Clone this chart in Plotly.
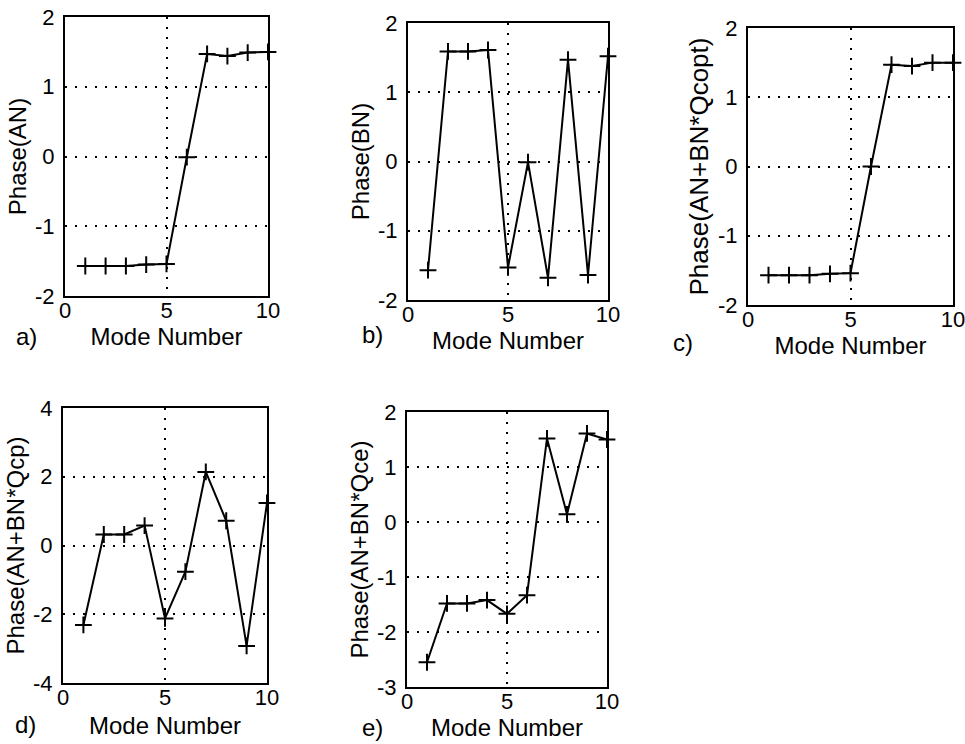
import plotly.graph_objects as go

# ---------------- data ----------------
modes = [1, 2, 3, 4, 5, 6, 7, 8, 9, 10]
phase_an = [-1.57, -1.57, -1.57, -1.55, -1.54, -0.01, 1.47, 1.44, 1.49, 1.50]
phase_bn = [-1.57, 1.59, 1.59, 1.61, -1.53, -0.01, -1.68, 1.47, -1.64, 1.52]
phase_qcopt = [-1.57, -1.57, -1.57, -1.55, -1.54, 0.0, 1.47, 1.45, 1.50, 1.50]
phase_qcp = [-2.31, 0.32, 0.32, 0.58, -2.12, -0.76, 2.14, 0.72, -2.92, 1.24]
phase_qce = [-2.55, -1.48, -1.48, -1.42, -1.67, -1.33, 1.52, 0.14, 1.61, 1.50]

series = [phase_an, phase_bn, phase_qcopt, phase_qcp, phase_qce]
ytitles = ["Phase(AN)", "Phase(BN)", "Phase(AN+BN*Qcopt)",
           "Phase(AN+BN*Qcp)", "Phase(AN+BN*Qce)"]
yranges = [[-2, 2], [-2, 2], [-2, 2], [-4, 4], [-3, 2]]
yticks = [[-2, -1, 0, 1, 2], [-2, -1, 0, 1, 2], [-2, -1, 0, 1, 2],
          [-4, -2, 0, 2, 4], [-3, -2, -1, 0, 1, 2]]
xticks = [0, 5, 10]
xtitle = "Mode Number"
panel_labels = ["a)", "b)", "c)", "d)", "e)"]

# ---------------- layout (pixel boxes) ----------------
W, H = 965, 744
boxes = [  # left, right, top, bottom in pixels
    (65, 268, 17, 296),
    (408, 608, 23, 300),
    (748, 953, 28, 305),
    (63, 267, 408, 683),
    (407, 607, 412, 687),
]
label_pos = [(26, 337), (372, 334), (683, 343), (25, 724), (372, 727)]
ytitle_sizes = [24, 24, 26, 24, 24]
xtitle_standoff = [2, 2, 2, 8, 2]

FONT = "Liberation Sans, Arial, Helvetica, sans-serif"


def tick_text(vals):
    return [str(v) for v in vals]  # plain hyphen minus, as in the original


fig = go.Figure()
layout = dict(
    width=W, height=H,
    margin=dict(l=0, r=0, t=0, b=0, pad=0, autoexpand=False),
    paper_bgcolor="white", plot_bgcolor="white",
    showlegend=False,
    font=dict(family=FONT, color="black", size=22),
    annotations=[],
)

for i, (ys, box) in enumerate(zip(series, boxes)):
    n = i + 1
    xa = "x" if n == 1 else f"x{n}"
    ya = "y" if n == 1 else f"y{n}"
    fig.add_trace(go.Scatter(
        x=modes, y=ys, xaxis=xa, yaxis=ya,
        mode="lines+markers",
        line=dict(color="black", width=2),
        marker=dict(symbol="cross-thin", size=12,
                    line=dict(color="black", width=2)),
        cliponaxis=False,
    ))
    l, r, t, b = box
    common = dict(
        showline=True, linecolor="black", linewidth=2, mirror=True,
        showgrid=True, gridcolor="black", gridwidth=1.6,
        griddash="2px,8px", zeroline=False, ticks="",
        automargin=False, ticklabeloverflow="allow",
        tickfont=dict(family=FONT, size=22, color="black"),
    )
    layout[f"xaxis{'' if n == 1 else n}"] = dict(
        domain=[l / W, r / W], anchor=ya,
        range=[0, 10], tickmode="array", tickvals=xticks,
        ticktext=tick_text(xticks),
        ticklabelstandoff=-6,
        title=dict(text=xtitle, standoff=xtitle_standoff[i],
                   font=dict(family=FONT, size=24, color="black")),
        **common,
    )
    layout[f"yaxis{'' if n == 1 else n}"] = dict(
        domain=[1 - b / H, 1 - t / H], anchor=xa,
        range=yranges[i], tickmode="array", tickvals=yticks[i],
        ticktext=tick_text(yticks[i]),
        ticklabelstandoff=4,
        title=dict(text=ytitles[i], standoff=2,
                   font=dict(family=FONT, size=ytitle_sizes[i], color="black")),
        **common,
    )
    lx, ly = label_pos[i]
    layout["annotations"].append(dict(
        text=panel_labels[i], xref="paper", yref="paper",
        x=lx / W, y=1 - ly / H, xanchor="center", yanchor="middle",
        showarrow=False, font=dict(family=FONT, size=24, color="black"),
    ))

fig.update_layout(**layout)
fig.write_html("out.html")
